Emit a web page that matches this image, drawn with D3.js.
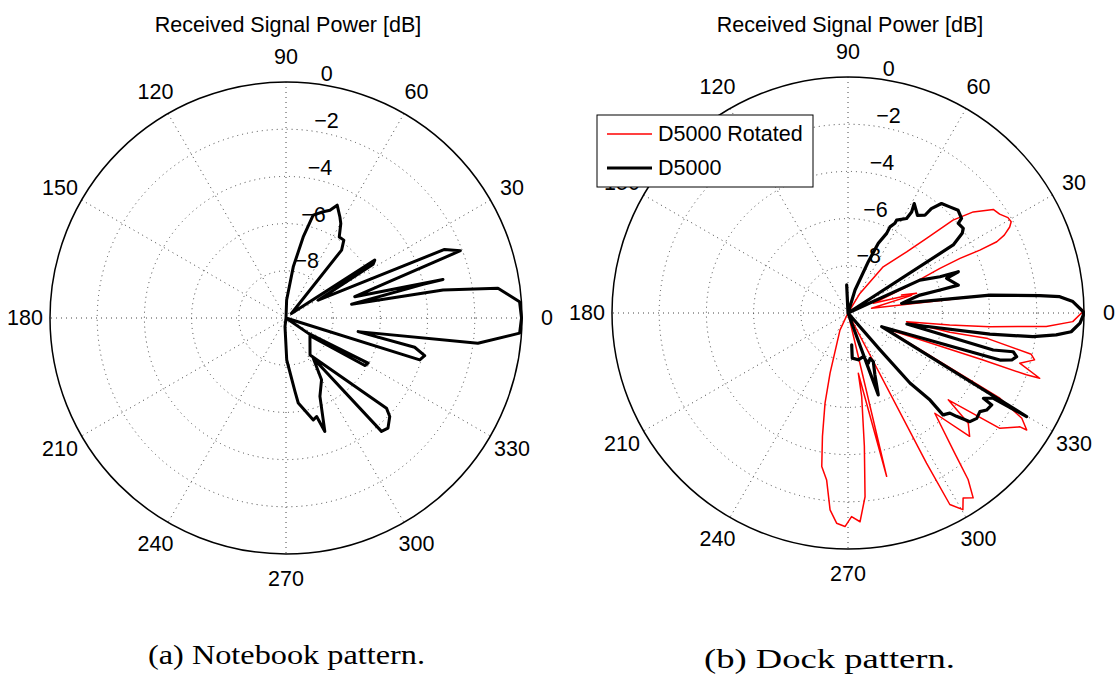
<!DOCTYPE html>
<html>
<head>
<meta charset="utf-8">
<script src="https://cdn.jsdelivr.net/npm/d3@7"></script>
<style>
  html, body { margin: 0; padding: 0; background: #fff; }
  svg { display: block; }
  text { font-family: "Liberation Sans", Arial, Helvetica, sans-serif; fill: #000; }
  .caption { font-family: "Liberation Serif", "Times New Roman", serif; }
</style>
</head>
<body>
<svg id="chart" width="1116" height="684"></svg>
<script>
// Radial ticks (dB) and angular ticks (degrees)
const radialTicks = [-8, -6, -4, -2, 0];
const angleTicks = [0, 30, 60, 90, 120, 150, 180, 210, 240, 270, 300, 330];

// (a) Notebook pattern: angle [deg], received power [dB]
const notebookAngle = [90, 88, 81.9, 78, 75.2, 70.7, 67.8, 65.6, 61.9, 59.9, 56.7, 53.4, 50.7, 40,
  33.1, 31.7, 29, 23.4, 21.1, 17.2, 13.8, 13.8, 11.8, 10.1, 8.0, 4.0, 0, -3.7, -7.5, -10.7,
  -12.8, -15.2, -17.4, -20, -34.5, -28.8, -31.1, -36.4, -57, -41.9, -43.5, -47.2, -49.9, -55.9,
  -60.1, -66.6, -71.1, -72.7, -75, -81.8, -83, -89, -96.6, -100];
const notebookPower = [-10, -9.24, -7.81, -6.49, -5.49, -5.23, -5.07, -4.75, -5.15, -5.37, -5.89, -5.89, -6.28, -9.7,
  -5.51, -5.66, -8.44, -2.68, -2.08, -6.95, -3.15, -4.02, -7.16, -3.24, -0.93, -0.08, -0.02, -0.08, -1.8, -6.89,
  -4.41, -3.91, -4.06, -10, -8.85, -6.03, -6.10, -8.74, -8.13, -4.28, -3.94, -3.64, -3.72, -7.94,
  -6.98, -6.38, -4.92, -5.63, -5.53, -6.36, -6.86, -8.22, -9.63, -10];

// (b) Dock pattern, D5000
const dockAngle = [90, 92.7, 85, 73, 68.4, 66.5, 64.1, 64, 62.4, 62.4, 58.2, 57.8, 58.8, 54.6, 51.8, 51.4,
  49.5, 46.2, 43, 39.8, 39.1, 36.3, 34.9, 32.9, 30, 24.6, 21.5, 20.5, 19.4, 14.2, 14, 14, 10.2,
  7.2, 5.2, 4.4, 2.9, 0.3, -0.5, -2.5, -4.8, -6.0, -7.3, -8.5, -10.6, -14.3, -13.2, -14.5, -16, -17.2,
  -22.1, -30.1, -30.4, -32.2, -32.6, -35, -36.8, -39.3, -41.7, -43.6, -44.5, -47, -46.7, -48.5, -49, -50,
  -69.7, -66.5, -62.5, -64.1, -68, -70.7, -77.6, -84.6, -83.4];
const dockPower = [-10, -8.81, -10, -8.98, -7.66, -6.78, -6.25, -5.94, -5.71, -5.56, -5.29, -4.94, -4.58, -4.92, -4.73, -4.34,
  -3.90, -3.77, -3.62, -3.74, -3.98, -3.94, -4.1, -4.69, -10, -6.65, -5.81, -5.01, -5.57, -5.18, -5.98, -6.86, -7.69,
  -3.93, -1.84, -1.0, -0.46, -0.03, -0.03, -0.16, -0.51, -1.13, -2.10, -3.92, -7.46, -3.65, -2.81, -2.62, -2.78, -3.26,
  -8.46, -1.25, -2.86, -3.22, -2.77, -2.83, -3.02, -2.95, -3.08, -3.65, -3.95, -4.10, -4.93, -6.04, -7.93, -10,
  -6.30, -7.14, -7.68, -7.86, -7.70, -8.04, -7.97, -8.08, -8.64];

// (b) Dock pattern, D5000 Rotated
const rotatedAngle = [90, 58.6, 52.7, 46.2, 43.5, 41.5, 38.9, 35.5, 33.1, 30.8, 29.2, 28, 26.5, 25.6, 25.5, 26,
  25.9, 24.1, 20.9, 16, 18.5, 15.5, 11.2, 7.2, 5.2, 4.4, 2.9, 0.5, -2.2, -3.9, -5.5, -6.7, -8.4,
  -10.7, -10.3, -12.7, -14.1, -16.3, -18.8, -19.1, -19.2, -22.5, -29.3, -31.2, -33.2, -33.5, -37.2, -40.9,
  -42.5, -45.4, -49.1, -52.7, -54.2, -55.9, -58.1, -59.7, -62, -62.4, -60, -76.7, -80.3, -80.7, -83,
  -84.7, -86.7, -89, -90.8, -93.1, -95.2, -97.3, -99.7, -101.7, -104.3, -106.6, -115.2, -120];
const rotatedPower = [-10, -9.03, -7.54, -6.41, -5.41, -4.06, -3.18, -2.44, -2.33, -2.11, -2.08, -2.24, -2.6, -3.01, -3.81, -4.72,
  -5.67, -7.28, -8.85, -6.98, -7.61, -7.2, -8.98, -3.95, -1.86, -1.02, -0.48, -0.02, -0.47, -1.58, -3.97, -5.66, -7.49,
  -5.61, -4.04, -2.04, -1.85, -2.42, -1.42, -2.0, -3.94, -8.31, -2.62, -1.39, -0.95, -1.26, -1.92, -4.38,
  -3.09, -2.66, -4.38, -2.54, -1.30, -0.54, -0.77, -0.35, -0.81, -2.82, -10, -2.89, -7.41, -6.41, -4.31,
  -2.18, -1.14, -1.37, -0.95, -1.08, -1.62, -2.87, -3.40, -4.66, -6.06, -7.34, -9.2, -10];

const FONT = 21.5;
const svg = d3.select("#chart");
const R = 236;
const rScale = d3.scaleLinear().domain([-10, 0]).range([0, R]).clamp(true);
const toRad = d => d * Math.PI / 180;

function polarPanel(cx, cy, series, title) {
  const g = svg.append("g").attr("transform", `translate(${cx},${cy})`);
  const px = (a, v) => rScale(v) * Math.cos(toRad(a));
  const py = (a, v) => -rScale(v) * Math.sin(toRad(a));

  // dotted spokes every 30 degrees
  g.selectAll("line.spoke").data(angleTicks.filter(a => a < 180)).join("line")
    .attr("x1", a => px(a, 0)).attr("y1", a => py(a, 0))
    .attr("x2", a => px(a + 180, 0)).attr("y2", a => py(a + 180, 0))
    .attr("stroke", "#444").attr("stroke-width", 1).attr("stroke-dasharray", "1 4");

  // dotted rings
  g.selectAll("circle.ring").data(radialTicks.filter(t => t < 0)).join("circle")
    .attr("r", t => rScale(t)).attr("fill", "none")
    .attr("stroke", "#444").attr("stroke-width", 1).attr("stroke-dasharray", "1 4");

  // outer boundary
  g.append("circle").attr("r", rScale(0)).attr("fill", "none")
    .attr("stroke", "#000").attr("stroke-width", 1.5);

  // angle labels
  g.selectAll("text.ang").data(angleTicks).join("text")
    .attr("x", a => (R + 25) * Math.cos(toRad(a)))
    .attr("y", a => -(R + 25) * Math.sin(toRad(a)))
    .attr("text-anchor", "middle").attr("dominant-baseline", "central")
    .attr("font-size", FONT).text(a => a);

  // traces
  const line = d3.line().x(d => px(d[0], d[1])).y(d => py(d[0], d[1]));
  series.forEach(s => {
    const pts = s.angle.map((a, i) => [a, s.power[i]]);
    g.append("path").attr("d", line(pts)).attr("fill", "none")
      .attr("stroke", s.color).attr("stroke-width", s.width)
      .attr("stroke-linejoin", "round").attr("stroke-linecap", "round");
  });

  // radial labels along 82 degrees
  g.selectAll("text.rad").data(radialTicks).join("text")
    .attr("x", t => rScale(t) * Math.cos(toRad(82)) + 2)
    .attr("y", t => -rScale(t) * Math.sin(toRad(82)) - 3)
    .attr("font-size", FONT).text(t => t < 0 ? "\u2212" + Math.abs(t) : t);

  svg.append("text").attr("x", cx + 2).attr("y", 32).attr("text-anchor", "middle")
    .attr("font-size", FONT).text(title);
  return g;
}

polarPanel(286, 318, [
  { angle: notebookAngle, power: notebookPower, color: "#000", width: 3 }
], "Received Signal Power [dB]");

polarPanel(848, 313, [
  { angle: rotatedAngle, power: rotatedPower, color: "#ff0000", width: 1.5 },
  { angle: dockAngle, power: dockPower, color: "#000", width: 3.2 }
], "Received Signal Power [dB]");

// legend
const legend = [
  { name: "D5000 Rotated", color: "#ff0000", width: 1.5 },
  { name: "D5000", color: "#000", width: 3.2 }
];
const lg = svg.append("g").attr("transform", "translate(597,115)");
lg.append("rect").attr("width", 216).attr("height", 72).attr("fill", "#fff")
  .attr("stroke", "#000").attr("stroke-width", 1);
legend.forEach((d, i) => {
  const y = 19 + i * 34;
  lg.append("line").attr("x1", 10).attr("x2", 55).attr("y1", y).attr("y2", y)
    .attr("stroke", d.color).attr("stroke-width", d.width);
  lg.append("text").attr("x", 61).attr("y", y).attr("dominant-baseline", "central")
    .attr("font-size", FONT).text(d.name);
});

// captions
svg.append("text").attr("class", "caption").attr("x", 148).attr("y", 664)
  .attr("font-size", 28).attr("textLength", 277).attr("lengthAdjust", "spacingAndGlyphs")
  .text("(a) Notebook pattern.");
svg.append("text").attr("class", "caption").attr("x", 704).attr("y", 668)
  .attr("font-size", 28).attr("textLength", 251).attr("lengthAdjust", "spacingAndGlyphs")
  .text("(b) Dock pattern.");
</script>
</body>
</html>
